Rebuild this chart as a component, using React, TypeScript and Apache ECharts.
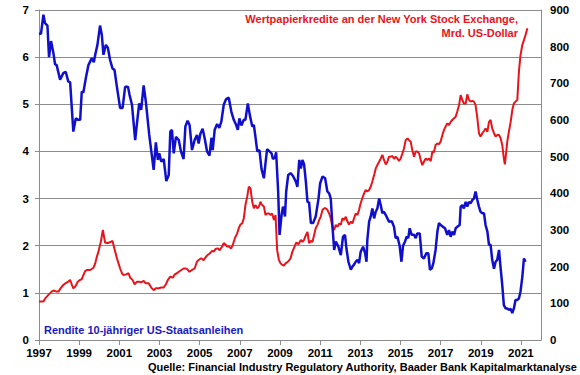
import React, { useEffect, useRef } from "react";
import * as echarts from "echarts";

// 10-year US Treasury yield (%), left axis
const yieldYears = [
  1997.0, 1997.1, 1997.22, 1997.3, 1997.42, 1997.5, 1997.6, 1997.72, 1997.8, 1997.88,
  1998.05, 1998.21, 1998.33, 1998.46, 1998.55, 1998.71, 1998.83, 1998.96, 1999.05, 1999.13,
  1999.21, 1999.33, 1999.46, 1999.63, 1999.73, 1999.8, 1999.91, 2000.04, 2000.13, 2000.21,
  2000.33, 2000.43, 2000.54, 2000.66, 2000.76, 2000.88, 2001.04, 2001.16, 2001.29, 2001.43,
  2001.51, 2001.63, 2001.79, 2001.88, 2001.99, 2002.09, 2002.21, 2002.32, 2002.49, 2002.71,
  2002.82, 2002.92, 2002.99, 2003.09, 2003.21, 2003.34, 2003.46, 2003.54, 2003.62, 2003.71,
  2003.82, 2003.96, 2004.07, 2004.2, 2004.29, 2004.4, 2004.5, 2004.62, 2004.75, 2004.87,
  2004.95, 2005.04, 2005.15, 2005.25, 2005.37, 2005.49, 2005.59, 2005.65, 2005.75, 2005.87,
  2005.98, 2006.08, 2006.2, 2006.32, 2006.45, 2006.58, 2006.7, 2006.82, 2006.9, 2006.98,
  2007.08, 2007.2, 2007.28, 2007.4, 2007.5, 2007.62, 2007.7, 2007.78, 2007.87, 2007.98,
  2008.08, 2008.2, 2008.28, 2008.36, 2008.48, 2008.58, 2008.65, 2008.75, 2008.81, 2008.91,
  2008.98, 2009.08, 2009.15, 2009.25, 2009.31, 2009.41, 2009.53, 2009.65, 2009.79, 2009.87,
  2009.96, 2010.04, 2010.12, 2010.2, 2010.29, 2010.37, 2010.45, 2010.54, 2010.65, 2010.78,
  2010.92, 2011.0, 2011.12, 2011.25, 2011.36, 2011.45, 2011.53, 2011.61, 2011.7, 2011.78,
  2011.91, 2012.03, 2012.14, 2012.24, 2012.31, 2012.41, 2012.53, 2012.61, 2012.69, 2012.77,
  2012.86, 2012.94, 2013.02, 2013.14, 2013.24, 2013.31, 2013.35, 2013.44, 2013.52, 2013.6,
  2013.69, 2013.77, 2013.85, 2013.94, 2014.02, 2014.1, 2014.18, 2014.27, 2014.35, 2014.43,
  2014.57, 2014.68, 2014.76, 2014.85, 2014.96, 2015.05, 2015.13, 2015.23, 2015.31, 2015.39,
  2015.46, 2015.56, 2015.68, 2015.76, 2015.84, 2015.96, 2016.06, 2016.17, 2016.29, 2016.39,
  2016.47, 2016.56, 2016.64, 2016.75, 2016.84, 2016.92, 2017.0, 2017.12, 2017.22, 2017.33,
  2017.42, 2017.5, 2017.58, 2017.67, 2017.75, 2017.83, 2017.95, 2018.0, 2018.08, 2018.16,
  2018.25, 2018.33, 2018.41, 2018.5, 2018.58, 2018.66, 2018.74, 2018.83, 2018.91, 2018.99,
  2019.08, 2019.16, 2019.24, 2019.33, 2019.41, 2019.49, 2019.57, 2019.66, 2019.74, 2019.82,
  2019.91, 2019.99, 2020.07, 2020.15, 2020.24, 2020.32, 2020.4, 2020.49, 2020.57, 2020.65,
  2020.73, 2020.82, 2020.9, 2020.98, 2021.07, 2021.15, 2021.23,
];
const yieldValues = [
  6.49, 6.5, 6.9, 6.72, 6.67, 6.0, 6.34, 6.08, 5.85, 5.83,
  5.52, 5.66, 5.69, 5.48, 5.47, 4.42, 4.7, 4.67, 4.67, 5.27,
  5.25, 5.55, 5.83, 5.98, 5.89, 6.05, 6.26, 6.67, 6.47, 6.05,
  6.26, 6.2, 5.94, 5.76, 5.73, 5.37, 4.92, 4.92, 5.37, 5.37,
  5.2, 4.99, 4.24, 4.6, 5.02, 4.88, 5.4, 5.06, 4.35, 3.61,
  4.19, 3.82, 3.96, 3.78, 3.84, 3.37, 3.5, 4.42, 4.46, 3.96,
  4.31, 4.24, 4.0, 3.84, 4.53, 4.65, 4.56, 4.03, 4.24, 4.35,
  4.17, 4.38, 4.48, 4.28, 4.0, 3.91, 4.29, 4.03, 4.46, 4.58,
  4.5, 4.63, 4.99, 5.11, 5.14, 4.84, 4.67, 4.56, 4.46, 4.7,
  4.55, 4.67, 4.67, 5.02, 4.77, 4.53, 4.56, 4.31, 4.0, 4.03,
  3.63, 3.43, 3.75, 4.05, 4.0, 3.96, 3.84, 3.87, 3.98, 3.15,
  2.23, 2.65, 2.83, 2.62, 3.15, 3.5, 3.54, 3.48, 3.36, 3.25,
  3.82, 3.64, 3.82, 3.73, 3.36, 2.93, 2.92, 2.48, 2.48, 2.62,
  3.0, 3.32, 3.47, 3.43, 3.15, 3.11, 3.0, 2.44, 1.91, 2.09,
  1.98, 1.8, 2.19, 2.23, 1.94, 1.66, 1.49, 1.56, 1.6, 1.66,
  1.7, 1.63, 1.87, 1.98, 1.84, 1.66, 2.12, 2.51, 2.62, 2.79,
  2.58, 2.72, 2.79, 3.0, 2.86, 2.69, 2.72, 2.65, 2.58, 2.51,
  2.52, 2.4, 2.16, 2.19, 2.0, 1.66, 2.0, 2.09, 2.19, 2.16,
  2.37, 2.23, 2.23, 2.16, 2.26, 2.26, 1.77, 1.73, 1.84, 1.84,
  1.49, 1.52, 1.63, 1.91, 2.3, 2.48, 2.44, 2.4, 2.37, 2.23,
  2.33, 2.19, 2.3, 2.23, 2.37, 2.4, 2.44, 2.83, 2.86, 2.79,
  2.93, 2.83, 2.93, 2.9, 2.97, 3.0, 3.15, 2.97, 2.83, 2.72,
  2.69, 2.69, 2.44, 2.3, 2.02, 2.02, 1.7, 1.51, 1.66, 1.7,
  1.91, 1.52, 1.17, 0.74, 0.67, 0.67, 0.64, 0.66, 0.57, 0.67,
  0.85, 0.85, 0.88, 1.03, 1.34, 1.73, 1.66,
];

// Margin debt at the NYSE, bn USD, right axis
const marginYears = [
  1997.0, 1997.22, 1997.33, 1997.47, 1997.63, 1997.72, 1997.88, 1997.97, 1998.1, 1998.21,
  1998.33, 1998.46, 1998.55, 1998.63, 1998.71, 1998.8, 1998.93, 1999.05, 1999.13, 1999.21,
  1999.3, 1999.38, 1999.55, 1999.71, 1999.8, 1999.88, 1999.96, 2000.08, 2000.18, 2000.29,
  2000.43, 2000.49, 2000.59, 2000.66, 2000.76, 2000.88, 2000.96, 2001.04, 2001.13, 2001.21,
  2001.33, 2001.46, 2001.54, 2001.66, 2001.76, 2001.88, 2001.99, 2002.09, 2002.21, 2002.32,
  2002.46, 2002.59, 2002.71, 2002.82, 2002.96, 2003.09, 2003.21, 2003.32, 2003.42, 2003.54,
  2003.66, 2003.76, 2003.87, 2003.96, 2004.09, 2004.2, 2004.29, 2004.37, 2004.49, 2004.62,
  2004.75, 2004.87, 2004.95, 2005.07, 2005.2, 2005.29, 2005.4, 2005.5, 2005.62, 2005.7,
  2005.79, 2005.9, 2006.0, 2006.12, 2006.2, 2006.28, 2006.37, 2006.45, 2006.57, 2006.65,
  2006.75, 2006.87, 2006.95, 2007.03, 2007.12, 2007.2, 2007.28, 2007.37, 2007.45, 2007.53,
  2007.62, 2007.7, 2007.78, 2007.87, 2007.95, 2008.03, 2008.11, 2008.2, 2008.28, 2008.36,
  2008.45, 2008.53, 2008.61, 2008.7, 2008.78, 2008.86, 2008.95, 2009.03, 2009.11, 2009.2,
  2009.28, 2009.41, 2009.53, 2009.62, 2009.76, 2009.82, 2009.92, 2010.04, 2010.12, 2010.2,
  2010.29, 2010.37, 2010.45, 2010.54, 2010.62, 2010.7, 2010.78, 2010.87, 2010.95, 2011.03,
  2011.12, 2011.2, 2011.28, 2011.36, 2011.45, 2011.53, 2011.61, 2011.7, 2011.78, 2011.86,
  2011.95, 2012.03, 2012.11, 2012.19, 2012.28, 2012.36, 2012.44, 2012.53, 2012.61, 2012.69,
  2012.77, 2012.86, 2012.94, 2013.02, 2013.11, 2013.19, 2013.27, 2013.35, 2013.44, 2013.52,
  2013.6, 2013.69, 2013.77, 2013.85, 2013.94, 2014.02, 2014.1, 2014.18, 2014.27, 2014.35,
  2014.43, 2014.52, 2014.6, 2014.68, 2014.76, 2014.85, 2014.93, 2015.01, 2015.1, 2015.18,
  2015.26, 2015.35, 2015.43, 2015.51, 2015.59, 2015.68, 2015.76, 2015.84, 2015.93, 2016.01,
  2016.09, 2016.17, 2016.26, 2016.34, 2016.42, 2016.51, 2016.59, 2016.67, 2016.75, 2016.84,
  2016.92, 2017.0, 2017.09, 2017.17, 2017.25, 2017.34, 2017.42, 2017.5, 2017.58, 2017.67,
  2017.75, 2017.83, 2017.92, 2018.0, 2018.08, 2018.16, 2018.25, 2018.33, 2018.41, 2018.5,
  2018.58, 2018.66, 2018.74, 2018.83, 2018.91, 2018.99, 2019.08, 2019.16, 2019.24, 2019.33,
  2019.41, 2019.49, 2019.57, 2019.66, 2019.74, 2019.82, 2019.91, 2019.99, 2020.07, 2020.15,
  2020.2, 2020.27, 2020.32, 2020.4, 2020.49, 2020.57, 2020.65, 2020.73, 2020.82, 2020.9,
  2020.98, 2021.07, 2021.15, 2021.23, 2021.32,
];
const marginValues = [
  105, 105, 115, 123, 132, 135, 132, 132, 143, 150,
  155, 159, 164, 152, 141, 145, 159, 164, 166, 177,
  188, 191, 191, 197, 209, 227, 241, 268, 300, 266,
  264, 266, 268, 270, 248, 223, 209, 195, 182, 177,
  179, 182, 170, 164, 152, 159, 159, 157, 161, 155,
  155, 143, 136, 141, 141, 143, 143, 152, 164, 173,
  170, 179, 182, 186, 191, 195, 195, 194, 186, 191,
  195, 214, 218, 223, 218, 225, 232, 236, 243, 241,
  248, 250, 245, 255, 264, 261, 255, 255, 250, 259,
  277, 291, 305, 315, 318, 332, 368, 391, 418, 414,
  377, 359, 368, 359, 364, 377, 368, 364, 341, 345,
  345, 341, 345, 327, 341, 245, 218, 209, 205, 203,
  209, 214, 223, 241, 259, 266, 261, 273, 268, 273,
  286, 295, 264, 270, 268, 286, 305, 314, 327, 336,
  355, 359, 359, 355, 345, 332, 309, 300, 314, 309,
  318, 314, 332, 327, 336, 323, 315, 323, 318, 332,
  345, 341, 355, 373, 388, 400, 409, 405, 409, 418,
  432, 450, 468, 477, 486, 495, 505, 491, 479, 486,
  500, 500, 502, 494, 500, 495, 488, 495, 509, 523,
  545, 550, 545, 541, 518, 500, 514, 514, 509, 491,
  477, 486, 495, 491, 495, 488, 514, 512, 532, 536,
  534, 541, 559, 573, 582, 591, 586, 595, 600, 605,
  609, 623, 641, 668, 655, 645, 645, 670, 655, 650,
  652, 650, 641, 605, 564, 555, 564, 570, 577, 568,
  595, 600, 577, 564, 555, 559, 559, 550, 532, 495,
  479, 514, 541, 568, 595, 627, 645, 650, 655, 732,
  777, 805, 818, 832, 850,
];

const leftTicks = { min: 0, max: 7, interval: 1 };
const rightTicks = { min: 0, max: 900, interval: 100 };
const yearTicks = { min: 1997, max: 2022, interval: 2 };

const redTitle = "Wertpapierkredite an der New York Stock Exchange,\nMrd. US-Dollar";
const blueTitle = "Rendite 10-jähriger US-Staatsanleihen";
const sourceText = "Quelle: Financial Industry Regulatory Authority, Baader Bank Kapitalmarktanalyse";

const FONT = "'Liberation Sans', Arial, sans-serif";
const RED = "#e8141c";
const BLUE = "#1010cc";
const GRID = "#8c8c8c";

export default function App() {
  const ref = useRef<HTMLDivElement>(null);
  useEffect(() => {
    if (!ref.current) return;
    const chart = echarts.init(ref.current, null, { renderer: "svg" });
    const labelStyle = {
      color: "#000",
      fontFamily: FONT,
      fontWeight: "bold" as const,
      fontSize: 11.5,
    };
    chart.setOption({
      animation: false,
      backgroundColor: "#fff",
      grid: { left: 39, right: 39, top: 10, bottom: 35, containLabel: false },
      xAxis: {
        type: "value",
        min: yearTicks.min,
        max: yearTicks.max,
        interval: yearTicks.interval,
        axisLine: { show: true, lineStyle: { color: GRID, width: 1 } },
        axisTick: { show: true, inside: false, length: 5, lineStyle: { color: GRID } },
        splitLine: { show: false },
        axisLabel: {
          ...labelStyle,
          margin: 7,
          showMaxLabel: false,
          formatter: (v: number) => String(Math.round(v)),
        },
      },
      yAxis: [
        {
          type: "value",
          position: "left",
          min: leftTicks.min,
          max: leftTicks.max,
          interval: leftTicks.interval,
          axisLine: { show: true, lineStyle: { color: GRID, width: 1 } },
          axisTick: { show: true, length: 4, lineStyle: { color: GRID } },
          splitLine: { show: true, lineStyle: { color: GRID, width: 1 } },
          axisLabel: { ...labelStyle, margin: 10 },
        },
        {
          type: "value",
          position: "right",
          min: rightTicks.min,
          max: rightTicks.max,
          interval: rightTicks.interval,
          axisLine: { show: true, lineStyle: { color: GRID, width: 1 } },
          axisTick: { show: false },
          splitLine: { show: false },
          axisLabel: { ...labelStyle, margin: 9 },
        },
      ],
      series: [
        {
          type: "line",
          name: "Margin debt",
          yAxisIndex: 1,
          showSymbol: false,
          data: marginYears.map((y, i) => [y, marginValues[i]]),
          lineStyle: { color: RED, width: 2 },
          itemStyle: { color: RED },
          z: 2,
        },
        {
          type: "line",
          name: "Yield",
          yAxisIndex: 0,
          showSymbol: false,
          data: yieldYears.map((y, i) => [y, yieldValues[i]]),
          lineStyle: { color: BLUE, width: 2.5 },
          itemStyle: { color: BLUE },
          z: 3,
        },
      ],
      graphic: [
        {
          type: "text",
          x: 518,
          y: 12,
          style: {
            text: redTitle,
            textAlign: "right",
            textVerticalAlign: "top",
            fill: RED,
            font: `bold 11px ${FONT}`,
            lineHeight: 14,
          },
          z: 10,
        },
        {
          type: "text",
          x: 44,
          y: 330,
          style: {
            text: blueTitle,
            textAlign: "left",
            textVerticalAlign: "middle",
            fill: "#1a1ac0",
            font: `bold 11px ${FONT}`,
          },
          z: 10,
        },
        {
          type: "text",
          x: 577,
          y: 367,
          style: {
            text: sourceText,
            textAlign: "right",
            textVerticalAlign: "middle",
            fill: "#000",
            font: `bold 11px ${FONT}`,
          },
          z: 10,
        },
      ],
    });
    return () => chart.dispose();
  }, []);
  return (
    <div
      ref={ref}
      style={{ position: "fixed", left: 0, top: 0, width: 580, height: 375 }}
    />
  );
}
